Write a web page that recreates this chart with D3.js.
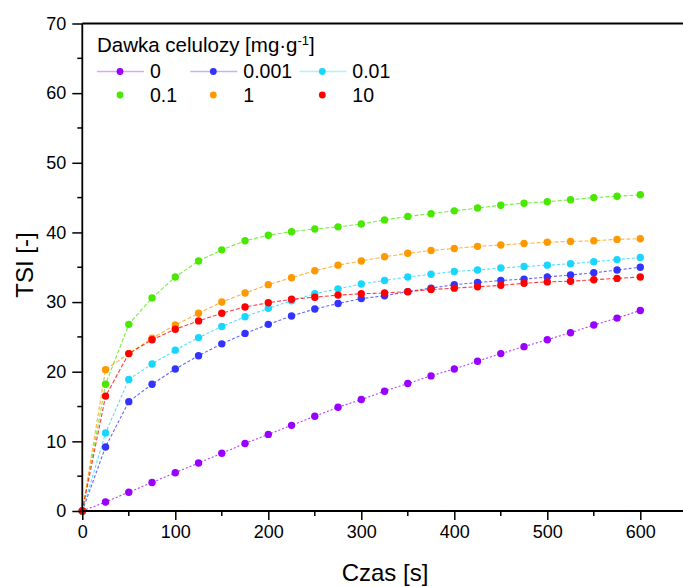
<!DOCTYPE html>
<html><head><meta charset="utf-8">
<script src="https://cdn.jsdelivr.net/npm/d3@7"></script>
<style>
body{margin:0;background:#fff}
svg{display:block}
text{font-family:"Liberation Sans",Arial,sans-serif;fill:#000}
</style>
</head><body>
<svg id="chart" width="683" height="587"></svg>
<script>
// ---- data ----
const times = [0,25,50,75,100,125,150,175,200,225,250,275,300,325,350,375,400,425,450,475,500,525,550,575,600];
const seriesNames = ["0","0.001","0.01","0.1","1","10"];
const seriesColors = ["#9900ff","#3333ff","#19d6ff","#48e800","#ff9900","#ff0000"];
const tsi_0     = [0,1.3,2.7,4.1,5.5,6.9,8.3,9.7,11.0,12.3,13.6,14.9,16.0,17.2,18.3,19.4,20.4,21.5,22.6,23.6,24.6,25.6,26.7,27.7,28.8];
const tsi_0001  = [0,9.2,15.7,18.2,20.4,22.3,24.0,25.5,26.8,28.0,29.0,29.8,30.5,30.9,31.5,32.0,32.5,32.8,33.1,33.3,33.6,33.9,34.2,34.6,35.0];
const tsi_001   = [0,11.2,18.9,21.1,23.1,24.9,26.5,27.9,29.1,30.2,31.2,31.9,32.6,33.1,33.6,34.0,34.4,34.6,34.9,35.1,35.3,35.5,35.8,36.1,36.4];
const tsi_01    = [0,18.2,26.8,30.6,33.6,35.9,37.5,38.8,39.6,40.1,40.5,40.8,41.2,41.8,42.3,42.7,43.1,43.5,43.9,44.2,44.4,44.7,45.0,45.2,45.4];
const tsi_1     = [0,20.3,22.6,24.8,26.7,28.4,30.0,31.3,32.5,33.5,34.5,35.3,35.9,36.5,37.0,37.4,37.7,38.0,38.2,38.4,38.6,38.7,38.8,39.0,39.1];
const tsi_10    = [0,16.5,22.6,24.6,26.1,27.3,28.4,29.3,29.9,30.4,30.7,31.0,31.2,31.3,31.5,31.8,32.0,32.2,32.4,32.7,32.9,33.0,33.2,33.4,33.6];
const seriesValues = [tsi_0, tsi_0001, tsi_001, tsi_01, tsi_1, tsi_10];
const xTicks = [0,100,200,300,400,500,600];
const yTicks = [0,10,20,30,40,50,60,70];
const xTitle = "Czas [s]";
const yTitle = "TSI [-]";

// ---- layout ----
const svg = d3.select("#chart");
const x = d3.scaleLinear().domain([0,650]).range([82.3, 686.8]);
const y = d3.scaleLinear().domain([0,70]).range([511, 23.5]);

// series lines + points
const line = d3.line().x((d,i)=>x(times[i])).y(d=>y(d));
const dashes = ["2,2","3,2","3,2","4,2","4,2","4,2"];
seriesValues.forEach((vals,si)=>{
  svg.append("path").datum(vals)
    .attr("d", line)
    .attr("fill","none")
    .attr("stroke", seriesColors[si])
    .attr("stroke-width",1.1)
    .attr("stroke-opacity",0.75)
    .attr("stroke-dasharray", dashes[si]);
});
seriesValues.forEach((vals,si)=>{
  svg.append("g").selectAll("circle").data(vals).join("circle")
    .attr("cx",(d,i)=>x(times[i]))
    .attr("cy",d=>y(d))
    .attr("r",3.7)
    .attr("fill",seriesColors[si]);
});

// axes
const xMinor = d3.range(50,650,100);
const yMinor = d3.range(5,70,10);
const gx = svg.append("g").attr("transform",`translate(0,${y(0)})`);
gx.call(d3.axisBottom(x).tickValues(xTicks).tickSize(9).tickPadding(5).tickFormat(d3.format("d")));
gx.append("g").selectAll("line").data(xMinor).join("line")
  .attr("x1",d=>x(d)).attr("x2",d=>x(d)).attr("y1",0).attr("y2",5)
  .attr("stroke","#000").attr("stroke-width",1.5);
gx.select(".domain").attr("d",`M${x(0)},0H${x(650)}`);

const gy = svg.append("g").attr("transform",`translate(${x(0)},0)`);
gy.call(d3.axisLeft(y).tickValues(yTicks).tickSize(10).tickPadding(6).tickFormat(d3.format("d")));
gy.append("g").selectAll("line").data(yMinor).join("line")
  .attr("y1",d=>y(d)).attr("y2",d=>y(d)).attr("x1",0).attr("x2",-5)
  .attr("stroke","#000").attr("stroke-width",1.5);
gy.select(".domain").attr("d",`M0,${y(0)}V${y(70)}`);

[gx,gy].forEach(g=>{
  g.selectAll(".domain").attr("stroke","#000").attr("stroke-width",1.8);
  g.selectAll(".tick line").attr("stroke","#000").attr("stroke-width",1.5);
  g.selectAll(".tick text").attr("font-size",18).attr("font-family",'"Liberation Sans",Arial,sans-serif').attr("fill","#000");
});
// top frame line
svg.append("line").attr("x1",x(0)).attr("x2",x(650)).attr("y1",y(70)).attr("y2",y(70))
  .attr("stroke","#000").attr("stroke-width",1.8);

// axis titles
svg.append("text").attr("x",385).attr("y",581).attr("text-anchor","middle")
  .attr("font-size",24).text(xTitle);
svg.append("text").attr("transform","translate(33,265) rotate(-90)").attr("text-anchor","middle")
  .attr("font-size",24).text(yTitle);

// legend
const lg = svg.append("g");
const title = lg.append("text").attr("x",97).attr("y",52).attr("font-size",20.5);
title.append("tspan").text("Dawka celulozy [mg·g");
title.append("tspan").attr("font-size",13).attr("dy",-7).text("-1");
title.append("tspan").attr("dy",7).text("]");
const colX = [120, 213.3, 322.3];
const rowY = [71.5, 95];
seriesNames.forEach((name,si)=>{
  const c = si%3, r = Math.floor(si/3);
  const cx = colX[c], cy = rowY[r];
  if(r===0){
    lg.append("line").attr("x1",cx-23).attr("x2",cx+24).attr("y1",cy).attr("y2",cy)
      .attr("stroke",seriesColors[si]).attr("stroke-opacity",0.35).attr("stroke-width",1.5);
  }
  lg.append("circle").attr("cx",cx).attr("cy",cy).attr("r",3.4).attr("fill",seriesColors[si]);
  lg.append("text").attr("x",cx+30).attr("y",cy+6.5).attr("font-size",19.5).text(name);
});
</script>
</body></html>
